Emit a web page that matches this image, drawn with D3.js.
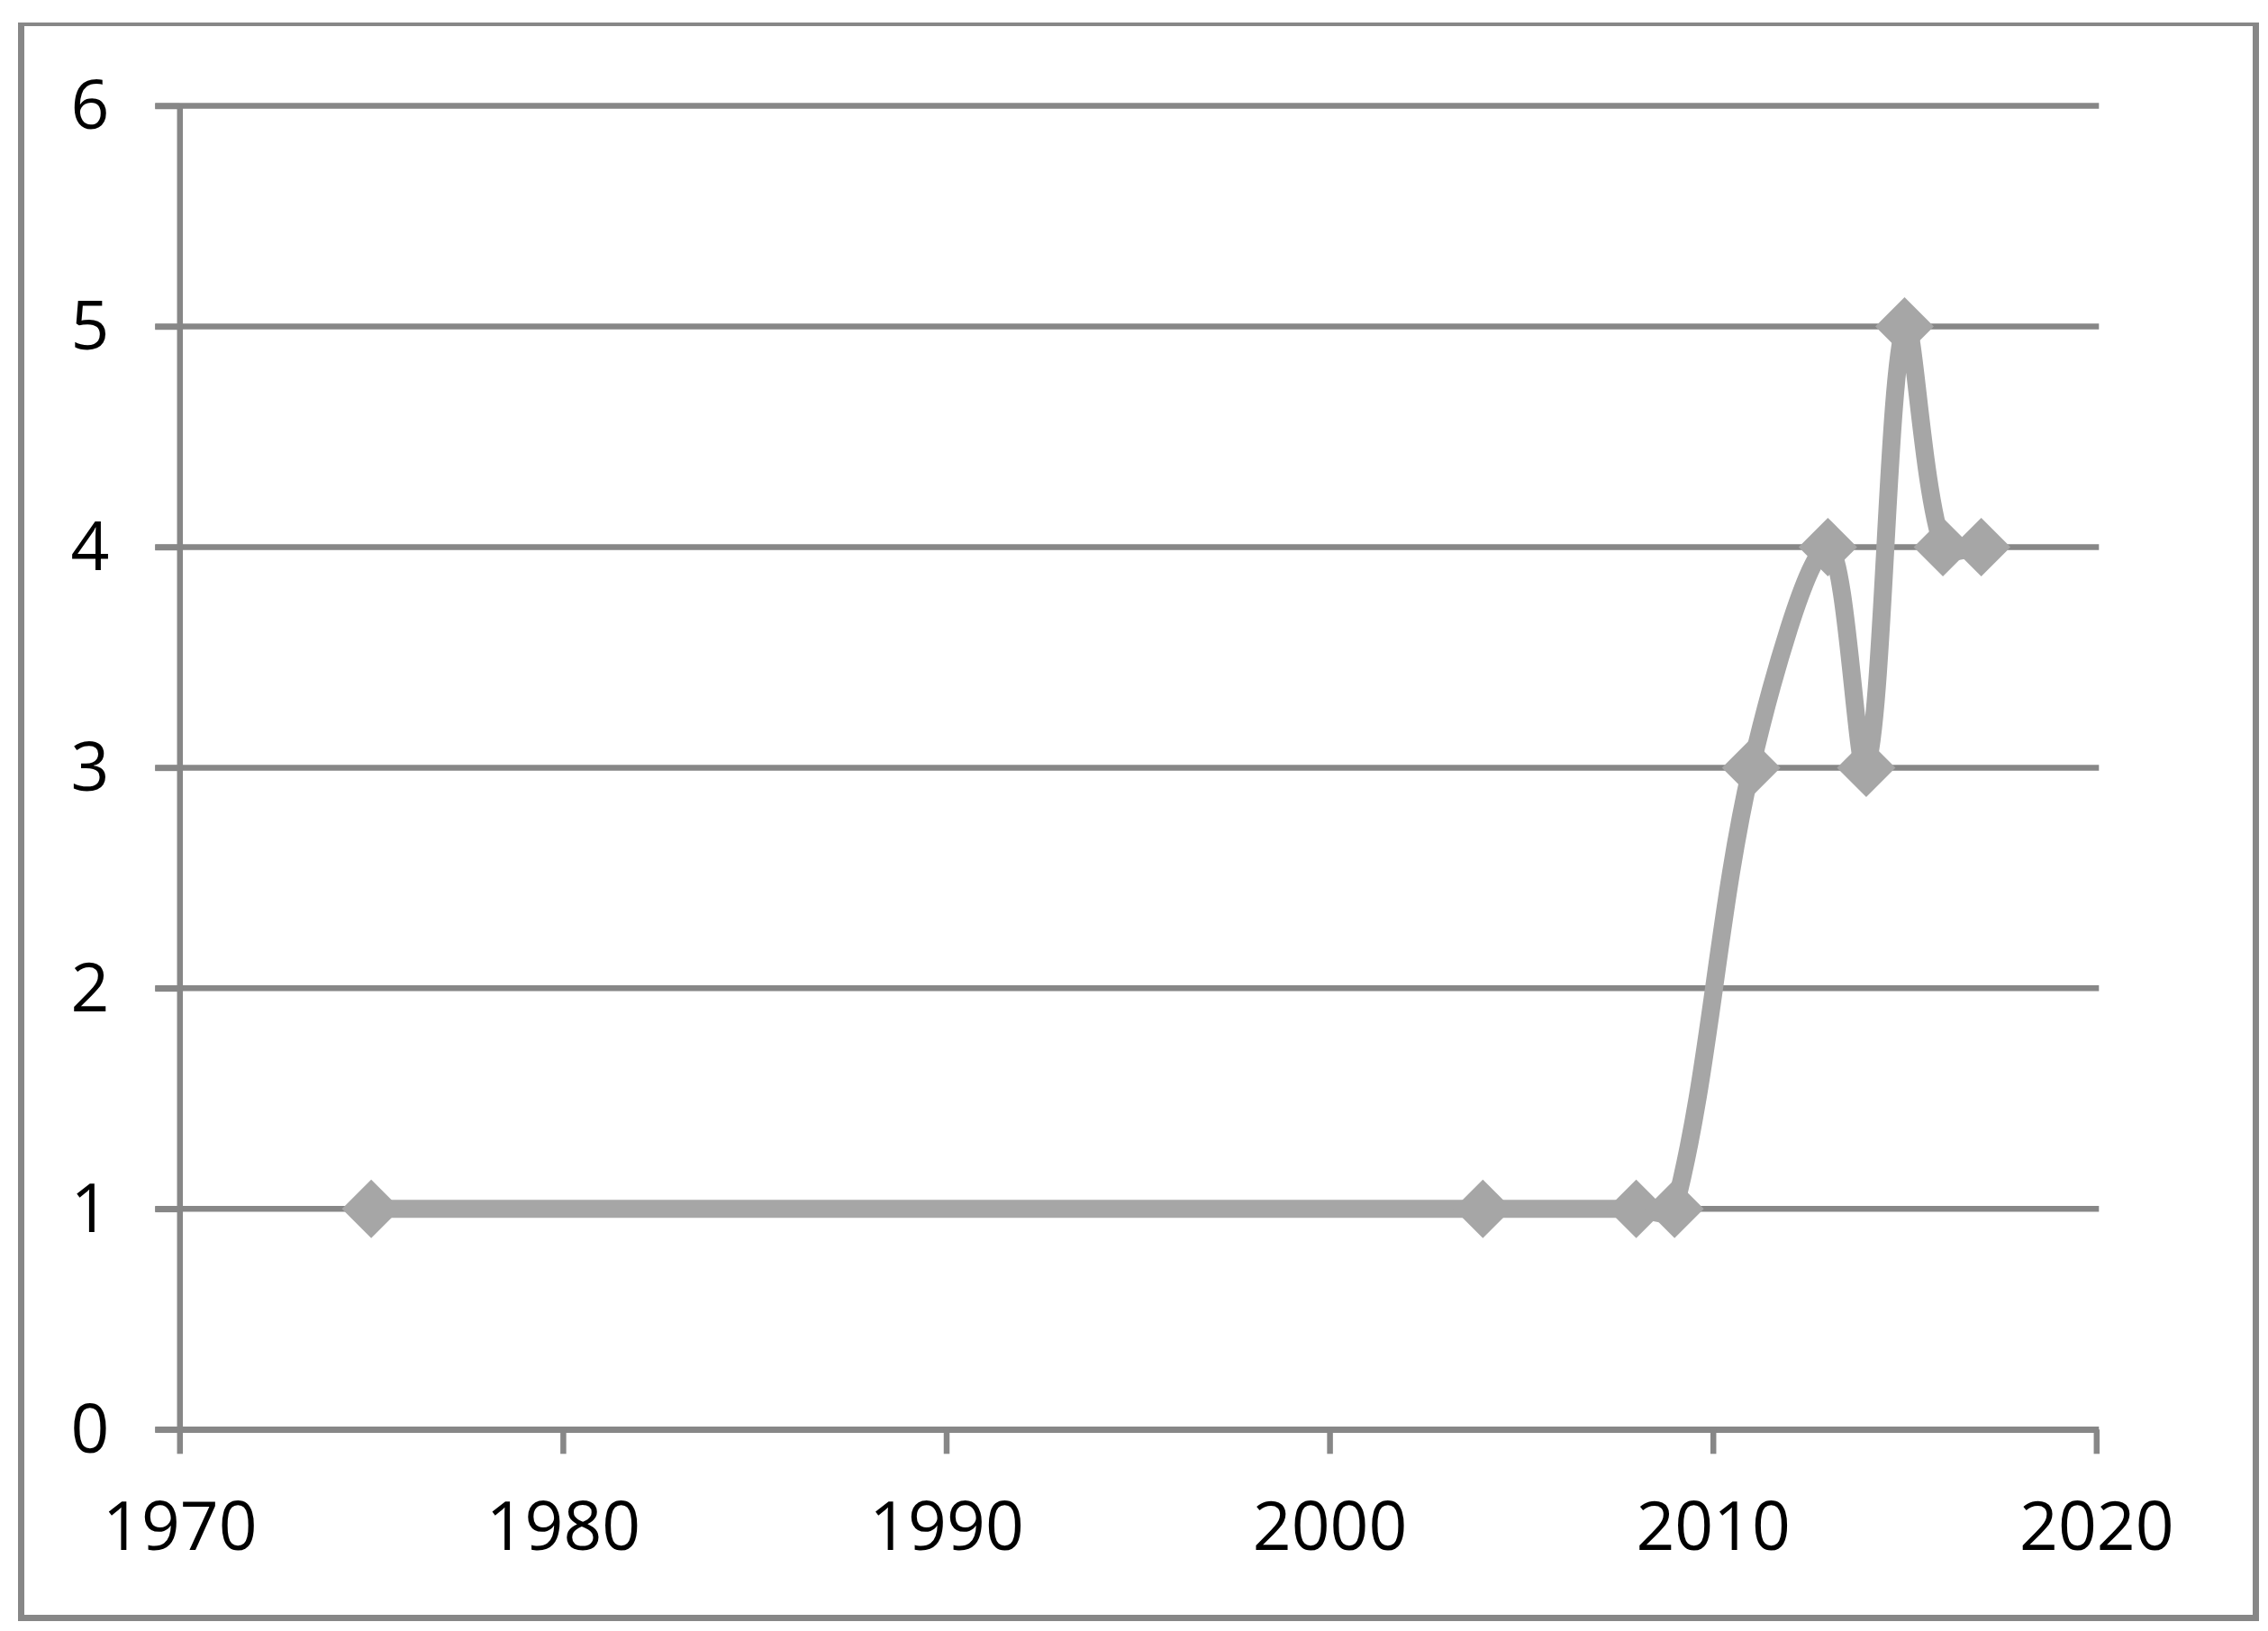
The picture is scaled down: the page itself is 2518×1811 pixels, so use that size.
<!DOCTYPE html>
<html>
<head>
<meta charset="utf-8">
<script src="https://cdn.jsdelivr.net/npm/d3@7"></script>
<style>
  html, body { margin: 0; padding: 0; background: #ffffff; }
  svg { display: block; }
</style>
</head>
<body>
<script>
// ---- data ----
const years  = [1975, 2004, 2008, 2009, 2011, 2013, 2014, 2015, 2016, 2017];
const values = [1, 1, 1, 1, 3, 4, 3, 5, 4, 4];
const xTicks = [1970, 1980, 1990, 2000, 2010, 2020];
const yTicks = [0, 1, 2, 3, 4, 5, 6];

const W = 2518, H = 1811;
const gridColor = "#878787";
const seriesColor = "#a6a6a6";
const font = "'Open Sans', 'Noto Sans', sans-serif";

const svg = d3.select("body").append("svg")
  .attr("width", W).attr("height", H)
  .style("background", "#fff");

// outer border
const bx0 = 23.5, bx1 = 2504.5, by0 = 27, by1 = 1796.5;
svg.append("line").attr("x1", bx0 - 3.5).attr("x2", bx1 + 3.5).attr("y1", by0).attr("y2", by0)
  .attr("stroke", gridColor).attr("stroke-width", 4);
svg.append("line").attr("x1", bx0 - 3.5).attr("x2", bx1 + 3.5).attr("y1", by1).attr("y2", by1)
  .attr("stroke", gridColor).attr("stroke-width", 7);
svg.append("line").attr("x1", bx0).attr("x2", bx0).attr("y1", by0 - 2).attr("y2", by1 + 3.5)
  .attr("stroke", gridColor).attr("stroke-width", 7);
svg.append("line").attr("x1", bx1).attr("x2", bx1).attr("y1", by0 - 2).attr("y2", by1 + 3.5)
  .attr("stroke", gridColor).attr("stroke-width", 7);

// scales
const x = d3.scaleLinear().domain([1970, 2020]).range([199.3, 2327.3]);
const y = d3.scaleLinear().domain([0, 6]).range([1587.3, 117.5]);

const tickLen = 27;
const sw = 6.5;

// gridlines
svg.append("g").selectAll("line").data(yTicks).join("line")
  .attr("x1", x(1970) - tickLen).attr("x2", x(2020) + 3)
  .attr("y1", d => y(d)).attr("y2", d => y(d))
  .attr("stroke", gridColor).attr("stroke-width", sw);

// y axis
const gy = svg.append("g").attr("transform", `translate(${x(1970)},0)`)
  .call(d3.axisLeft(y).tickValues(yTicks).tickSize(tickLen).tickSizeOuter(0).tickPadding(51).tickFormat(d3.format("d")));
gy.select(".domain").attr("stroke", gridColor).attr("stroke-width", sw);
gy.selectAll(".tick line").attr("stroke", gridColor).attr("stroke-width", sw);
gy.selectAll("text").attr("dy", "0.33em").attr("fill", "#000")
  .style("font-family", font).style("font-size", "75px");

// x axis
const gx = svg.append("g").attr("transform", `translate(0,${y(0)})`)
  .call(d3.axisBottom(x).tickValues(xTicks).tickSize(tickLen).tickSizeOuter(0).tickFormat(d3.format("d")));
gx.select(".domain").attr("stroke", gridColor).attr("stroke-width", sw);
gx.selectAll(".tick line").attr("stroke", gridColor).attr("stroke-width", sw);
gx.selectAll("text").attr("y", 134).attr("dy", 0).attr("fill", "#000")
  .style("font-family", font).style("font-size", "75px");

// series: spreadsheet-style smoothed line (chord-scaled Bezier tangents)
const pts = years.map((yr, i) => [yr, values[i]]);
const px = pts.map(d => [x(d[0]), y(d[1])]);
function smoothPath(p) {
  const path = d3.path();
  const n = p.length;
  const dist = (a, b) => Math.hypot(b[0] - a[0], b[1] - a[1]);
  path.moveTo(p[0][0], p[0][1]);
  for (let i = 0; i < n - 1; i++) {
    const p0 = p[Math.max(i - 1, 0)], p1 = p[i], p2 = p[i + 1], p3 = p[Math.min(i + 2, n - 1)];
    const d01 = dist(p0, p1), d12 = dist(p1, p2), d23 = dist(p2, p3);
    const f1 = d12 / (3 * (d01 + d12));
    const f2 = d12 / (3 * (d12 + d23));
    const c1 = [p1[0] + (p2[0] - p0[0]) * f1, p1[1] + (p2[1] - p0[1]) * f1];
    const c2 = [p2[0] - (p3[0] - p1[0]) * f2, p2[1] - (p3[1] - p1[1]) * f2];
    path.bezierCurveTo(c1[0], c1[1], c2[0], c2[1], p2[0], p2[1]);
  }
  return path.toString();
}
svg.append("path")
  .attr("d", smoothPath(px))
  .attr("fill", "none")
  .attr("stroke", seriesColor)
  .attr("stroke-width", 20)
  .attr("stroke-linejoin", "round");

// diamond markers
const r = 32.5;
svg.append("g").selectAll("path").data(pts).join("path")
  .attr("d", d => {
    const cx = x(d[0]), cy = y(d[1]);
    return `M${cx},${cy - r}L${cx + r},${cy}L${cx},${cy + r}L${cx - r},${cy}Z`;
  })
  .attr("fill", seriesColor);
</script>
</body>
</html>
